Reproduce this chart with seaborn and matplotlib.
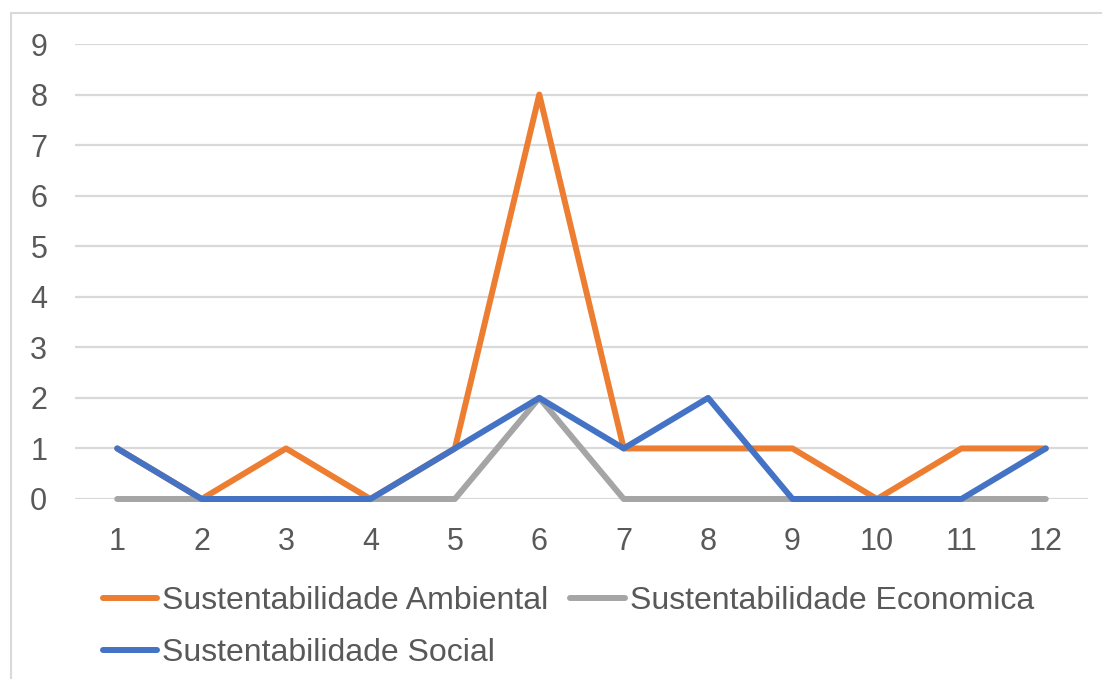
import pandas as pd
import matplotlib.pyplot as plt
import matplotlib.patches as mpatches
import seaborn as sns

x = list(range(1, 13))
ambiental = [1, 0, 1, 0, 1, 8, 1, 1, 1, 0, 1, 1]
economica = [0, 0, 0, 0, 0, 2, 0, 0, 0, 0, 0, 0]
social = [1, 0, 0, 0, 1, 2, 1, 2, 0, 0, 0, 1]
series = ["Sustentabilidade Ambiental", "Sustentabilidade Economica", "Sustentabilidade Social"]
colors = ["#ED7D31", "#A5A5A5", "#4472C4"]

df = pd.DataFrame({
    "x": x * 3,
    "valor": ambiental + economica + social,
    "serie": [series[0]] * 12 + [series[1]] * 12 + [series[2]] * 12,
})

sns.set_theme(style="white")
plt.rcParams["font.family"] = ["Liberation Sans", "DejaVu Sans"]
text_color = "#595959"
lw = 4.3

fig = plt.figure(figsize=(11.02, 6.79), dpi=100)
ax = fig.add_axes([75 / 1102, 1 - 499 / 679, (1088 - 75) / 1102, (499 - 44) / 679])

# chart border (cropped at right/bottom)
fig.patches.append(mpatches.Rectangle((11 / 1102, -0.1), 1.2, 1 - 13 / 679 + 0.1,
                                      transform=fig.transFigure, fill=False,
                                      edgecolor="#D9D9D9", linewidth=1.5, zorder=0))

sns.lineplot(data=df, x="x", y="valor", hue="serie", hue_order=series,
             palette=colors, linewidth=lw, ax=ax, legend=False,
             solid_capstyle="round")

ax.set_xlim(0.5, 12.5)
ax.set_ylim(0, 9)
ax.set_xticks(x)
ax.set_yticks(range(0, 10))
ax.set_xlabel("")
ax.set_ylabel("")
for s in ax.spines.values():
    s.set_visible(False)
ax.grid(axis="y", color="#D9D9D9", linewidth=1.6)
ax.grid(axis="x", visible=False)
ax.set_axisbelow(True)
ax.tick_params(axis="both", length=0, labelsize=22, colors=text_color)
ax.tick_params(axis="x", pad=20)
ax.tick_params(axis="y", pad=20)
for line in ax.get_lines():
    line.set_clip_on(False)

handles = [plt.Line2D([], [], color=c, linewidth=lw, solid_capstyle="round") for c in colors]
order = [0, 2, 1]
leg = fig.legend([handles[i] for i in order], [series[i] for i in order],
                 ncol=2, loc="upper left", bbox_to_anchor=(90 / 1102, 1 - 573 / 679),
                 frameon=False, fontsize=23, handlelength=1.7, handletextpad=0.15,
                 columnspacing=0.7, labelspacing=0.7, borderaxespad=0)
for t in leg.get_texts():
    t.set_color(text_color)

fig.savefig("out.png", dpi=100)
